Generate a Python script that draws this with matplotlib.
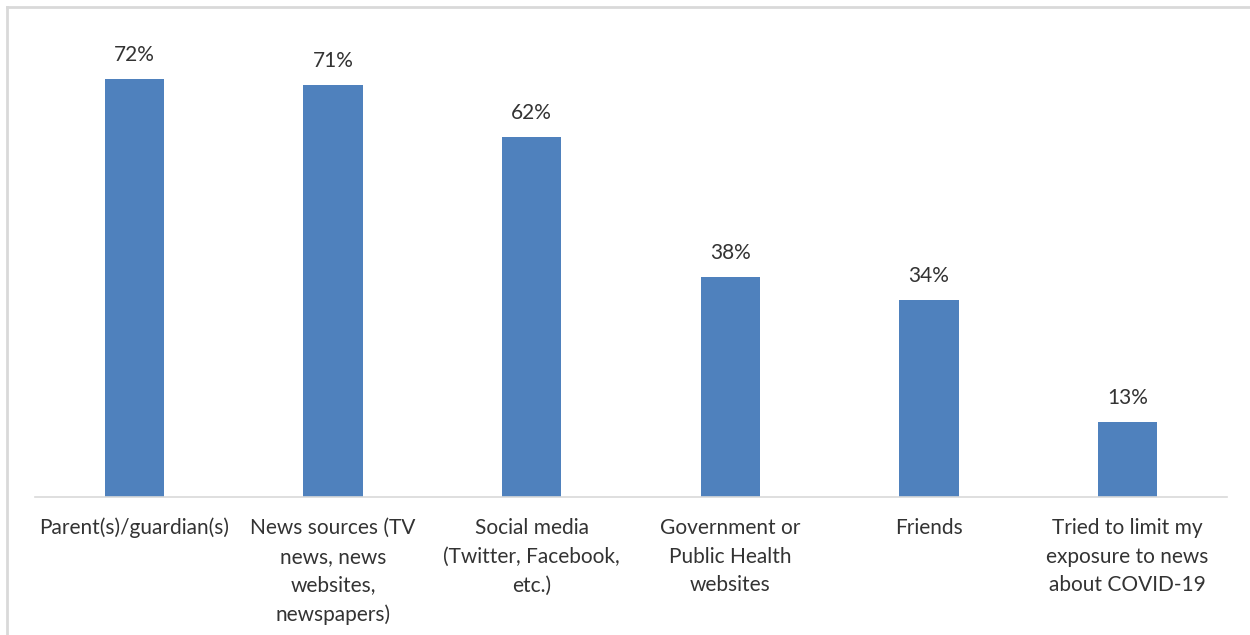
import matplotlib
matplotlib.use('Agg')
import matplotlib.pyplot as plt
from matplotlib.lines import Line2D

categories = [
    'Parent(s)/guardian(s)',
    'News sources (TV\nnews, news\nwebsites,\nnewspapers)',
    'Social media\n(Twitter, Facebook,\netc.)',
    'Government or\nPublic Health\nwebsites',
    'Friends',
    'Tried to limit my\nexposure to news\nabout COVID-19',
]
values = [72, 71, 62, 38, 34, 13]
labels = ['72%', '71%', '62%', '38%', '34%', '13%']

plt.rcParams['font.family'] = ['Lato', 'DejaVu Sans']
text_color = '#333333'

fig = plt.figure(figsize=(12.5, 6.35), dpi=100)
ax = fig.add_axes([0.028, 0.2173, 0.9536, 0.731])

x = range(len(categories))
bars = ax.bar(x, values, width=0.30, color='#4F81BD')

for b, lab in zip(bars, labels):
    ax.annotate(lab, (b.get_x() + b.get_width() / 2, b.get_height()),
                xytext=(0, 10), textcoords='offset points',
                ha='center', va='bottom', fontsize=15, color=text_color)

ax.set_xlim(-0.5, len(categories) - 0.5)
ax.set_ylim(0, 80)
ax.set_xticks(list(x))
ax.set_xticklabels(categories, fontsize=15, color=text_color, linespacing=1.55, va='top')
ax.tick_params(axis='x', length=0, pad=15)
ax.set_yticks([])
for s in ['top', 'right', 'left']:
    ax.spines[s].set_visible(False)
ax.spines['bottom'].set_color('#D9D9D9')
ax.spines['bottom'].set_linewidth(1.2)

# outer chart frame (top and left edges visible)
fig.add_artist(Line2D([7 / 1250, 1], [1 - 7 / 635, 1 - 7 / 635], transform=fig.transFigure,
                      color='#D9D9D9', linewidth=2))
fig.add_artist(Line2D([7 / 1250, 7 / 1250], [0, 1 - 7 / 635], transform=fig.transFigure,
                      color='#D9D9D9', linewidth=2))

fig.savefig('out.png', dpi=100)
